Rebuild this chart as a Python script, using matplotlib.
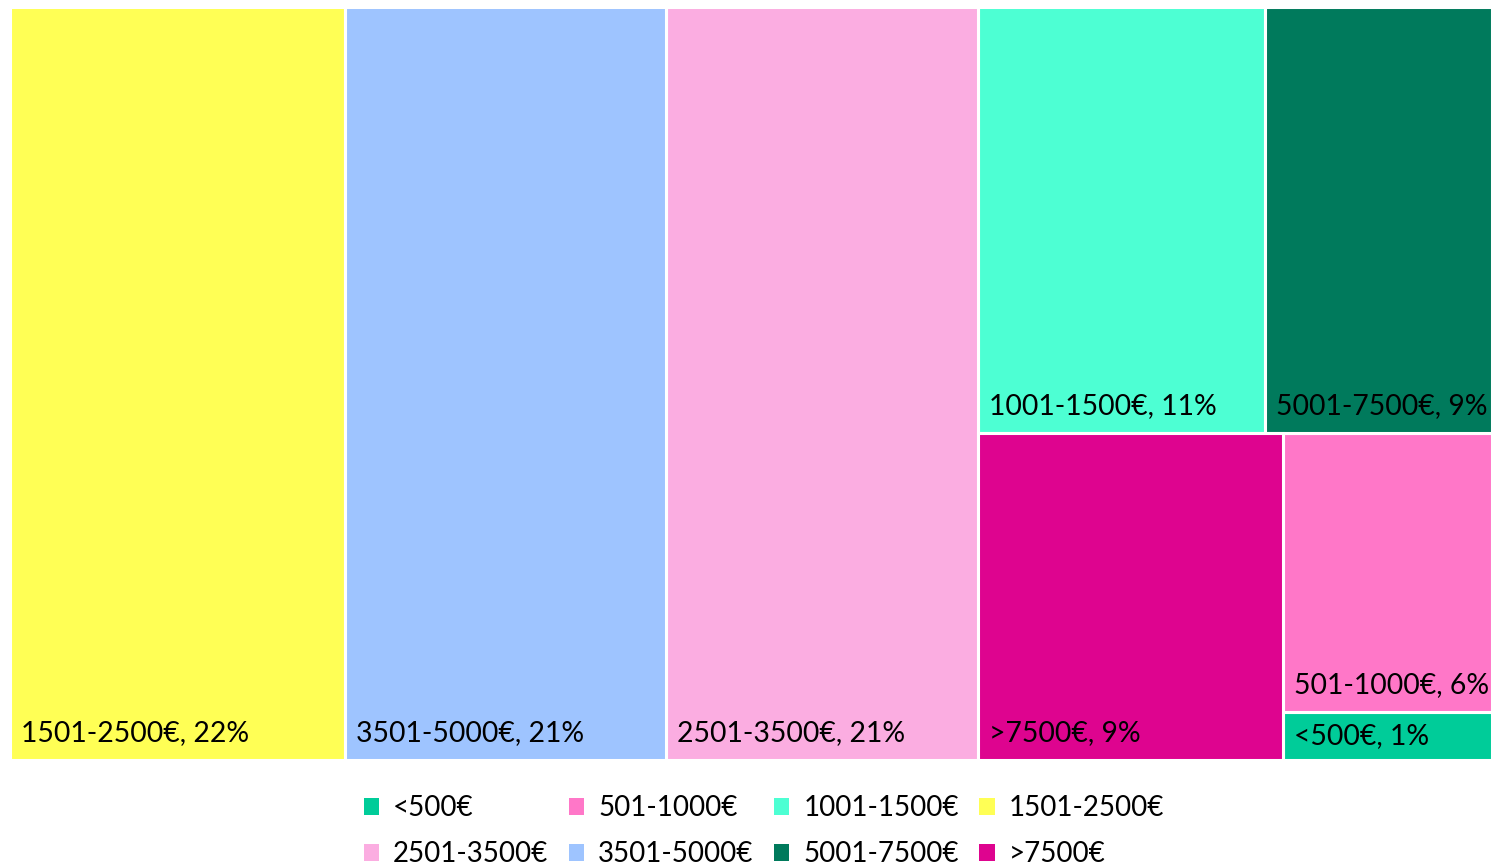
import matplotlib
matplotlib.use("Agg")
import matplotlib.pyplot as plt
from matplotlib.patches import Rectangle, Patch

plt.rcParams['font.family'] = ['Lato', 'DejaVu Sans']

# ---- data ----
categories = ["<500€", "501-1000€", "1001-1500€", "1501-2500€",
              "2501-3500€", "3501-5000€", "5001-7500€", ">7500€"]
# relative sizes read from the rectangle areas
sizes = [0.9, 5.2, 10.9, 22.5, 20.9, 21.5, 8.6, 8.9]
# percentages shown in the labels
pct_labels = [1, 6, 11, 22, 21, 21, 9, 9]
colors = ["#00CC99", "#FF77C8", "#4DFFD3", "#FFFF55",
          "#FBADE1", "#9EC4FF", "#007A5C", "#DE048F"]

idx = {c: i for i, c in enumerate(categories)}
S = lambda c: sizes[idx[c]]

W, H = 1482.0, 753.0
fig = plt.figure(figsize=(14.91, 8.68), dpi=100)
ax = fig.add_axes([10 / 1491, 1 - 760 / 868, W / 1491, H / 868])
ax.set_xlim(0, W)
ax.set_ylim(H, 0)
ax.axis('off')

rects = {}
total = sum(sizes)
# leading vertical strips
x = 0.0
for c in ["1501-2500€", "3501-5000€", "2501-3500€"]:
    w = S(c) / total * W
    rects[c] = (x, 0.0, w, H)
    x += w
# remaining block
rest = ["1001-1500€", "5001-7500€", ">7500€", "501-1000€", "<500€"]
rest_sum = sum(S(c) for c in rest)
bw = W - x
top = ["1001-1500€", "5001-7500€"]
top_sum = sum(S(c) for c in top)
th = top_sum / rest_sum * H
xx = x
for c in top:
    w = S(c) / top_sum * bw
    rects[c] = (xx, 0.0, w, th)
    xx += w
bottom_sum = rest_sum - top_sum
bh = H - th
w1 = S(">7500€") / bottom_sum * bw
rects[">7500€"] = (x, th, w1, bh)
col = ["501-1000€", "<500€"]
col_sum = sum(S(c) for c in col)
yy = th
for c in col:
    h = S(c) / col_sum * bh
    rects[c] = (x + w1, yy, bw - w1, h)
    yy += h

for c in categories:
    rx, ry, rw, rh = rects[c]
    ax.add_patch(Rectangle((rx, ry), rw, rh, facecolor=colors[idx[c]],
                           edgecolor='white', linewidth=2.2))
    off = min(27.0, rh / 2)
    ax.text(rx + 11, ry + rh - off, f"{c}, {pct_labels[idx[c]]}%",
            ha='left', va='center', fontsize=20.4, color='black')

handles = [Patch(facecolor=colors[i], edgecolor='none', label=categories[i])
           for i in range(len(categories))]
order = [0, 4, 1, 5, 2, 6, 3, 7]
fig.legend([handles[i] for i in order], [categories[i] for i in order],
           ncol=4, loc='center', bbox_to_anchor=(0.5124, 0.0425),
           frameon=False, fontsize=20, handlelength=0.55, handleheight=0.55,
           handletextpad=0.5, columnspacing=0.74, labelspacing=0.72,
           borderpad=0.2)

fig.savefig("out.png", dpi=100)
